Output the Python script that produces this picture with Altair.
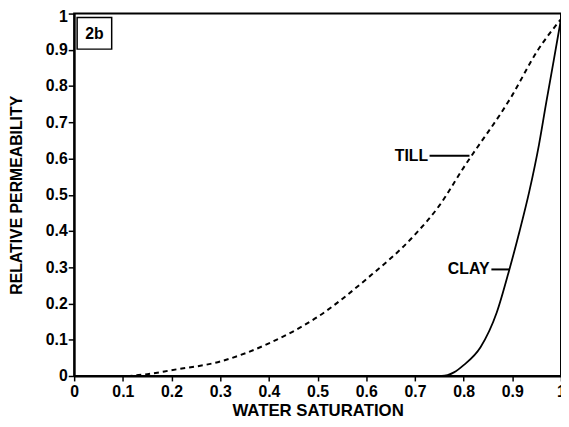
import altair as alt
import pandas as pd

# TILL curve (dashed)
till_x = [0.0, 0.1, 0.15, 0.2, 0.3, 0.4, 0.5, 0.6, 0.7, 0.75, 0.8, 0.9, 0.95, 1.0]
till_y = [0.0, 0.0, 0.005, 0.016, 0.04, 0.09, 0.163, 0.267, 0.39, 0.47, 0.575, 0.775, 0.894, 0.985]

# CLAY curve (solid)
clay_x = [0.0, 0.755, 0.78, 0.8, 0.835, 0.868, 0.894, 0.915, 0.935, 0.955, 0.97, 0.985, 1.0]
clay_y = [0.0, 0.0, 0.01, 0.03, 0.08, 0.175, 0.294, 0.40, 0.51, 0.64, 0.757, 0.87, 0.985]

x_ticks = [0, 0.1, 0.2, 0.3, 0.4, 0.5, 0.6, 0.7, 0.8, 0.9, 1.0]
y_ticks = [0, 0.1, 0.2, 0.3, 0.4, 0.5, 0.6, 0.7, 0.8, 0.9, 1.0]

label_names = ["TILL", "CLAY"]
label_text_x = [0.727, 0.853]
label_y = [0.608, 0.294]
pointer_x1 = [0.73, 0.857]
pointer_x2 = [0.812, 0.894]

panel_label = "2b"

FONT = "Liberation Sans"

till = pd.DataFrame({"x": till_x, "y": till_y})
clay = pd.DataFrame({"x": clay_x, "y": clay_y})
labels = pd.DataFrame({"name": label_names, "tx": label_text_x, "y": label_y,
                       "x1": pointer_x1, "x2": pointer_x2})

xscale = alt.Scale(domain=[0, 1], nice=False, zero=False)
yscale = alt.Scale(domain=[0, 1], nice=False, zero=False)

xaxis = alt.Axis(values=x_ticks, format="~g", title="WATER SATURATION",
                 grid=False, domainColor="black", domainWidth=2,
                 tickColor="black", tickWidth=1.5, tickSize=5,
                 labelFont=FONT, labelFontSize=16, labelFontWeight="bold",
                 labelColor="black", labelPadding=3, labelFlush=False,
                 labelOverlap=False,
                 titleFont=FONT, titleFontSize=17, titleFontWeight="bold",
                 titleColor="black", titleY=35, titleBaseline="middle")
yaxis = alt.Axis(values=y_ticks, format="~g", title="RELATIVE PERMEABILITY",
                 grid=False, domainColor="black", domainWidth=2,
                 tickColor="black", tickWidth=1.5, tickSize=6,
                 labelFont=FONT, labelFontSize=16, labelFontWeight="bold",
                 labelColor="black", labelPadding=1, labelFlush=False,
                 labelOverlap=False,
                 labelOffset={"condition": {"test": "datum.value == 1", "value": 3}, "value": 0},
                 titleFont=FONT, titleFontSize=16, titleFontWeight="bold",
                 titleColor="black", titleX=-58, titleBaseline="middle")

till_line = alt.Chart(till).mark_line(
    color="black", strokeWidth=2, strokeDash=[5, 4], interpolate="monotone"
).encode(x=alt.X("x:Q", scale=xscale, axis=xaxis),
         y=alt.Y("y:Q", scale=yscale, axis=yaxis))

clay_line = alt.Chart(clay).mark_line(
    color="black", strokeWidth=1.8, interpolate="monotone"
).encode(x=alt.X("x:Q", scale=xscale, axis=xaxis),
         y=alt.Y("y:Q", scale=yscale, axis=yaxis))

label_text = alt.Chart(labels).mark_text(
    align="right", baseline="middle", font=FONT, fontSize=16,
    fontWeight="bold", color="black"
).encode(x=alt.X("tx:Q", scale=xscale, axis=xaxis),
         y=alt.Y("y:Q", scale=yscale, axis=yaxis),
         text="name:N")

pointers = alt.Chart(labels).mark_rule(color="black", strokeWidth=2).encode(
    x=alt.X("x1:Q", scale=xscale, axis=xaxis), x2="x2:Q",
    y=alt.Y("y:Q", scale=yscale, axis=yaxis))

box = alt.Chart(pd.DataFrame({"t": [panel_label]})).mark_rect(
    fill="white", stroke="black", strokeWidth=1.5
).encode(x=alt.value(3), x2=alt.value(38), y=alt.value(4), y2=alt.value(36))

box_text = alt.Chart(pd.DataFrame({"t": [panel_label]})).mark_text(
    font=FONT, fontSize=16, fontWeight="bold", color="black",
    align="center", baseline="middle"
).encode(x=alt.value(20.5), y=alt.value(20.5), text="t:N")

chart = alt.layer(till_line, clay_line, pointers, label_text, box, box_text).properties(
    width=493, height=367,
    autosize=alt.AutoSizeParams(type="none"),
    padding={"left": 67, "top": 3, "right": 0, "bottom": 48},
    background="white"
).configure_view(stroke="black", strokeWidth=2)

chart.save("out.html", embed_options={"renderer": "svg", "actions": False})
